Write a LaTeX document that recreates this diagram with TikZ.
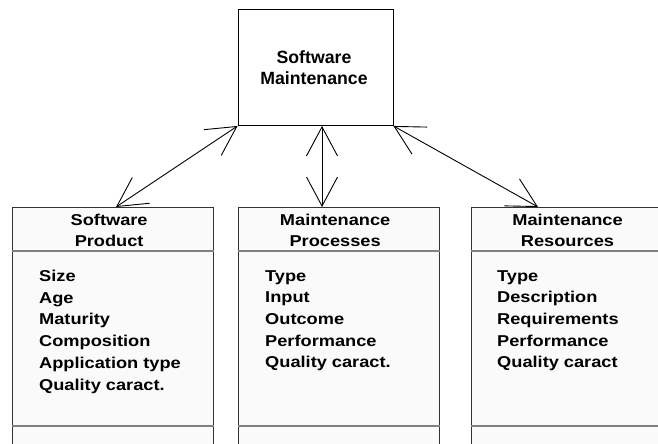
\documentclass[tikz,border=0pt]{standalone}
\usepackage{fontspec}
\setmainfont{Liberation Sans}
\newfontfamily\compfont[FakeStretch=1.16]{Liberation Sans}
\usetikzlibrary{arrows.meta}
\definecolor{boxfill}{HTML}{FAFAFA}
\definecolor{boxline}{HTML}{333333}
\definecolor{sepline}{HTML}{808080}

\begin{document}
\begin{tikzpicture}[x=1pt,y=-1pt,
  topbox/.style={draw=black, line width=0.9pt, fill=white,
    minimum width=155pt, minimum height=116.5pt, inner sep=0pt},
  toptext/.style={font={\bfseries\fontsize{17.7}{21}\selectfont},
    align=center, anchor=north, inner sep=0pt},
  classbox/.style={draw=boxline, fill=boxfill, line width=1.3pt,
    minimum width=201pt, minimum height=260pt, anchor=north west, inner sep=0pt},
  sepbar/.style={draw=sepline, line width=1.3pt},
  headtext/.style={font={\compfont\bfseries\fontsize{15.7}{21}\selectfont},
    align=center, anchor=north, inner sep=0pt},
  bodytext/.style={font={\compfont\bfseries\fontsize{15.7}{21.7}\selectfont},
    align=left, anchor=north west, inner sep=0pt},
  link/.style={draw=black, line width=0.9pt,
    {Straight Barb[length=29pt,width=31pt]}-{Straight Barb[length=29pt,width=31pt]}}
]
\useasboundingbox (0,0) rectangle (658,444);
\clip (0,0) rectangle (658,444);

% central concept
\node[topbox] (sm) at (315.5,67.25) {};
\node[toptext] (smlabel) at (314,50.3) {Software\\Maintenance};

% the three class boxes (the last one runs past the right margin)
\node[classbox] (prod) at (12,207) {};
\node[classbox] (proc) at (238,207) {};
\node[classbox, minimum width=240pt] (res) at (471,207) {};

% compartment separators
\foreach \b in {prod,proc,res}{
  \draw[sepbar] ([yshift=-44pt]\b.north west) -- ([yshift=-44pt]\b.north east);
  \draw[sepbar] ([yshift=-219pt]\b.north west) -- ([yshift=-219pt]\b.north east);
}

% headings
\node[headtext] (prodhead) at ([xshift=-4pt,yshift=-6.5pt]prod.north) {Software\\Product};
\node[headtext] (prochead) at ([xshift=-4pt,yshift=-6.5pt]proc.north) {Maintenance\\Processes};
\node[headtext] (reshead)  at ([xshift=96.5pt,yshift=-6.5pt]res.north west) {Maintenance\\Resources};

% attributes
\node[bodytext] (prodbody) at ([xshift=27pt,yshift=-63pt]prod.north west)
  {Size\\Age\\Maturity\\Composition\\Application type\\Quality caract.};
\node[bodytext] (procbody) at ([xshift=27pt,yshift=-63pt]proc.north west)
  {Type\\Input\\Outcome\\Performance\\Quality caract.};
\node[bodytext] (resbody)  at ([xshift=26pt,yshift=-63pt]res.north west)
  {Type\\Description\\Requirements\\Performance\\Quality caract};

% associations
\coordinate (mtop) at ([xshift=6.5pt]sm.south);
\draw[link] (sm.south west) -- ([xshift=104pt]prod.north west);
\draw[link] (mtop) -- (mtop |- proc.north);
\draw[link] (sm.south east) -- ([xshift=67pt]res.north west);
\end{tikzpicture}
\end{document}
